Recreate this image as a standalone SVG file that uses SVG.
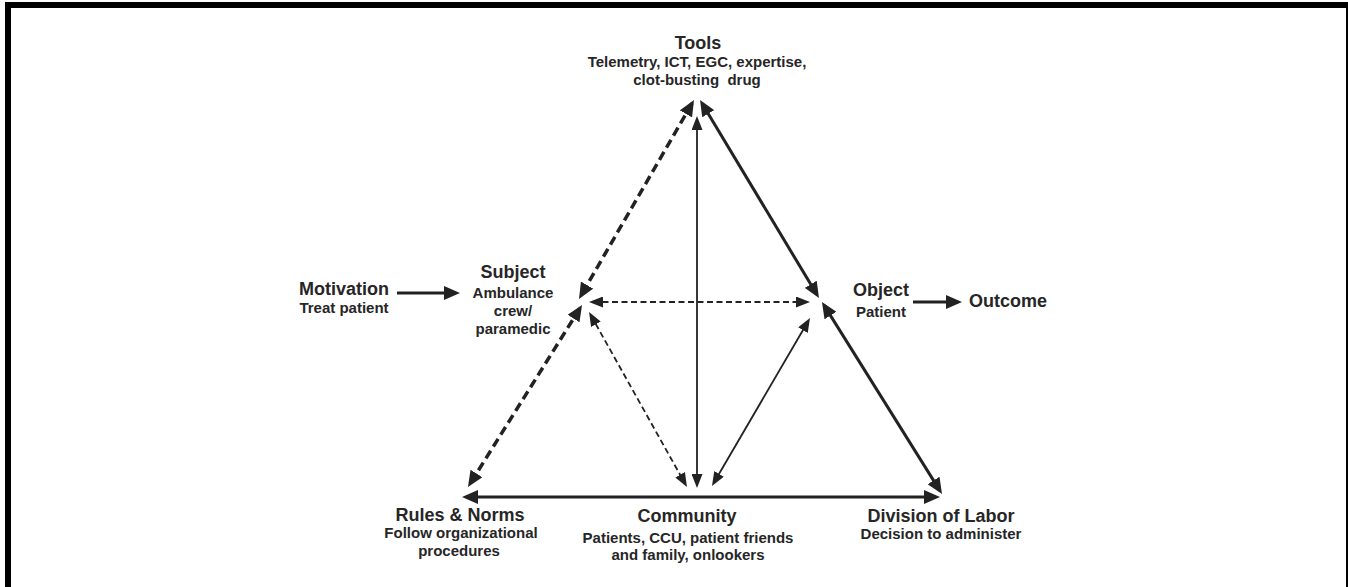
<svg xmlns="http://www.w3.org/2000/svg" width="1348" height="587" viewBox="0 0 1348 587">
<style>
  text { font-family: "Liberation Sans", Arial, sans-serif; font-weight: bold; fill: #262626; text-anchor: middle; }
  .h { font-size: 18px; }
  .s { font-size: 15px; }
  .thick { stroke: #222; stroke-width: 3; fill: none; }
  .thin { stroke: #222; stroke-width: 1.8; fill: none; }
  .dthick { stroke-dasharray: 9 5; stroke-width: 3.5; }
  .dthin { stroke-dasharray: 6 3.5; }
</style>
<defs>
  <marker id="big" viewBox="0 0 16 14" refX="12" refY="7" markerWidth="16" markerHeight="14" markerUnits="userSpaceOnUse" orient="auto-start-reverse">
    <path d="M0,0 L16,7 L0,14 Z" fill="#222"/>
  </marker>
  <marker id="small" viewBox="0 0 14 11" refX="10" refY="5.5" markerWidth="14" markerHeight="11" markerUnits="userSpaceOnUse" orient="auto-start-reverse">
    <path d="M0,0 L14,5.5 L0,11 Z" fill="#222"/>
  </marker>
</defs>
<rect x="0" y="0" width="1348" height="587" fill="#fff"/>
<rect x="8" y="5" width="1341" height="610" fill="none" stroke="#000" stroke-width="6"/>

<g id="connectors">
  <path class="thick dthick" d="M692,103.5 L581,295.5" marker-start="url(#big)" marker-end="url(#big)"/>
  <path class="thick dthick" d="M579.9,308.4 L470.1,483.6" marker-start="url(#big)" marker-end="url(#big)"/>
  <path class="thick" d="M702.1,103.4 L816.9,294.6" marker-start="url(#big)" marker-end="url(#big)"/>
  <path class="thick" d="M824.1,305.4 L939.9,490.6" marker-start="url(#big)" marker-end="url(#big)"/>
  <path class="thick" d="M466,497 L936,497" marker-start="url(#big)" marker-end="url(#big)"/>
  <path class="thin dthin" d="M593,302 L806,302" marker-start="url(#small)" marker-end="url(#small)"/>
  <path class="thin dthin" d="M591,315.5 L685,483.5" marker-start="url(#small)" marker-end="url(#small)"/>
  <path class="thin" d="M808,321.5 L714,482.5" marker-start="url(#small)" marker-end="url(#small)"/>
  <path class="thin" d="M697,120 L697,484" marker-start="url(#small)" marker-end="url(#small)"/>
  <path class="thick" d="M397,293 L456,293" marker-end="url(#big)"/>
  <path class="thick" d="M913,302 L958,302" marker-end="url(#big)"/>
</g>

<g id="tools">
  <text class="h" x="698" y="49">Tools</text>
  <text class="s" x="697" y="67">Telemetry, ICT, EGC, expertise,</text>
  <text class="s" x="697" y="85" xml:space="preserve">clot-busting  drug</text>
</g>
<g id="motivation">
  <text class="h" x="344" y="295">Motivation</text>
  <text class="s" x="344" y="313">Treat patient</text>
</g>
<g id="subject">
  <text class="h" x="513" y="278">Subject</text>
  <text class="s" x="513" y="298">Ambulance</text>
  <text class="s" x="513" y="316">crew/</text>
  <text class="s" x="513" y="334">paramedic</text>
</g>
<g id="object">
  <text class="h" x="881" y="296">Object</text>
  <text class="s" x="881" y="317">Patient</text>
</g>
<g id="outcome">
  <text class="h" x="1008" y="307">Outcome</text>
</g>
<g id="rules">
  <text class="h" x="460" y="521">Rules &amp; Norms</text>
  <text class="s" x="461" y="538">Follow organizational</text>
  <text class="s" x="459" y="556">procedures</text>
</g>
<g id="community">
  <text class="h" x="687" y="522">Community</text>
  <text class="s" x="688" y="543">Patients, CCU, patient friends</text>
  <text class="s" x="688" y="560">and family, onlookers</text>
</g>
<g id="division">
  <text class="h" x="941" y="522">Division of Labor</text>
  <text class="s" x="941" y="539">Decision to administer</text>
</g>
</svg>
